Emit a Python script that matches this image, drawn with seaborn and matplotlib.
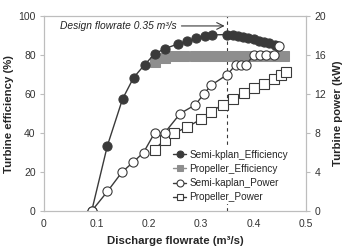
import matplotlib
matplotlib.use("Agg")
import matplotlib.pyplot as plt
import seaborn as sns
import pandas as pd

# ---- data ----
sk_eff_q = [0.091, 0.121, 0.150, 0.171, 0.192, 0.211, 0.230, 0.255, 0.273, 0.290,
            0.307, 0.320, 0.350, 0.360, 0.370, 0.380, 0.390, 0.400, 0.410, 0.420,
            0.430, 0.440, 0.447]
sk_eff = [0, 33.5, 57.5, 68.4, 75.0, 80.5, 83.2, 85.6, 87.0, 88.6,
          89.8, 90.3, 90.5, 90.2, 89.8, 89.3, 88.7, 88.0, 87.3, 86.7,
          85.9, 85.2, 84.8]

pr_eff_q = [0.211, 0.230, 0.249, 0.268, 0.288, 0.307, 0.326, 0.345, 0.364, 0.383,
            0.402, 0.421, 0.440, 0.458]
pr_eff = [76.6, 78.6, 79.3, 79.5, 79.5, 79.5, 79.5, 79.5, 79.5, 79.5,
          79.5, 79.5, 79.5, 79.5]

sk_pow_q = [0.091, 0.121, 0.149, 0.170, 0.190, 0.211, 0.230, 0.260, 0.289, 0.305,
            0.319, 0.350, 0.366, 0.376, 0.385, 0.401, 0.412, 0.423, 0.439, 0.449]
sk_pow = [0, 2.0, 4.0, 5.0, 6.0, 8.0, 8.0, 10.0, 10.9, 12.0,
          12.9, 14.0, 15.0, 15.0, 15.0, 16.0, 16.0, 16.0, 16.0, 16.9]

pr_pow_q = [0.211, 0.230, 0.249, 0.273, 0.299, 0.319, 0.341, 0.361, 0.381, 0.400,
            0.419, 0.438, 0.452, 0.462]
pr_pow = [6.3, 7.3, 8.0, 8.6, 9.4, 10.2, 10.9, 11.5, 12.1, 12.6,
          13.0, 13.5, 13.9, 14.3]

x_ticks = [0, 0.1, 0.2, 0.3, 0.4, 0.5]
x_tick_labels = ["0", "0.1", "0.2", "0.3", "0.4", "0.5"]
y_left_ticks = [0, 20, 40, 60, 80, 100]
y_right_ticks = [0, 4, 8, 12, 16, 20]
design_q = 0.35

sns.set_theme(style="white")
plt.rcParams["font.family"] = ["Liberation Sans", "DejaVu Sans"]

fig = plt.figure(figsize=(3.45, 2.52), dpi=100)
ax = fig.add_subplot(111)
fig.subplots_adjust(left=0.1275, right=0.887, top=0.9365, bottom=0.1627)
ax2 = ax.twinx()

dark = "#3a3a3a"
gray = "#8e8e8e"
spine_c = "#bdbdbd"

df1 = pd.DataFrame({"q": sk_eff_q, "v": sk_eff})
df2 = pd.DataFrame({"q": pr_eff_q, "v": pr_eff})
df3 = pd.DataFrame({"q": sk_pow_q, "v": sk_pow})
df4 = pd.DataFrame({"q": pr_pow_q, "v": pr_pow})

ms = 6.6
lw = 1.0
sns.lineplot(data=df2, x="q", y="v", ax=ax, color=gray, marker="s", markersize=ms,
             markeredgecolor=gray, markerfacecolor=gray, linewidth=lw,
             label="Propeller_Efficiency", legend=False, zorder=3)
sns.lineplot(data=df1, x="q", y="v", ax=ax, color=dark, marker="o", markersize=ms,
             markeredgecolor=dark, markerfacecolor=dark, linewidth=lw,
             label="Semi-kplan_Efficiency", legend=False, zorder=4)
sns.lineplot(data=df4, x="q", y="v", ax=ax2, color=dark, marker="s", markersize=ms,
             markeredgecolor=dark, markerfacecolor="white", markeredgewidth=0.8,
             linewidth=lw, label="Propeller_Power", legend=False)
sns.lineplot(data=df3, x="q", y="v", ax=ax2, color=dark, marker="o", markersize=ms,
             markeredgecolor=dark, markerfacecolor="white", markeredgewidth=0.8,
             linewidth=lw, label="Semi-kaplan_Power", legend=False)

ax.axvline(design_q, color=dark, linestyle=(0, (3, 3)), linewidth=0.8, zorder=1)
ax.annotate("", xy=(design_q, 94.9), xytext=(0.257, 94.9),
            arrowprops=dict(arrowstyle="->", color=dark, lw=0.8))
ax.text(0.031, 94.9, "Design flowrate 0.35 m³/s", style="italic", fontsize=7.4,
        color="#222222", va="center", ha="left")

ax.set_xlim(0, 0.5)
ax.set_ylim(0, 100)
ax2.set_ylim(0, 20)
ax.set_xticks(x_ticks)
ax.set_xticklabels(x_tick_labels)
ax.set_yticks(y_left_ticks)
ax2.set_yticks(y_right_ticks)

ax.set_xlabel("Discharge flowrate (m³/s)", fontsize=8.2, fontweight="bold", labelpad=5)
ax.set_ylabel("Turbine efficiency (%)", fontsize=8.2, fontweight="bold", labelpad=3)
ax2.set_ylabel("Turbine power (kW)", fontsize=8.2, fontweight="bold", labelpad=5)

for a in (ax, ax2):
    for s in a.spines.values():
        s.set_color(spine_c)
        s.set_linewidth(0.8)
    a.tick_params(axis="both", which="both", labelsize=7.5, colors="#333333",
                  length=3, width=0.8, direction="out", pad=3)
    a.tick_params(axis="both", color=spine_c)

handles = [ax.lines[1], ax.lines[0], ax2.lines[1], ax2.lines[0]]
labels = ["Semi-kplan_Efficiency", "Propeller_Efficiency", "Semi-kaplan_Power", "Propeller_Power"]
leg = ax2.legend(handles, labels, loc="upper left", bbox_to_anchor=(0.485, 0.325),
                 fontsize=7.2, frameon=True, facecolor="white", edgecolor="none",
                 framealpha=1, handlelength=1.3, handletextpad=0.35,
                 borderpad=0.2, labelspacing=0.42, borderaxespad=0)
for lh in leg.legend_handles:
    lh.set_markersize(5)

fig.savefig("out.png", dpi=100)
